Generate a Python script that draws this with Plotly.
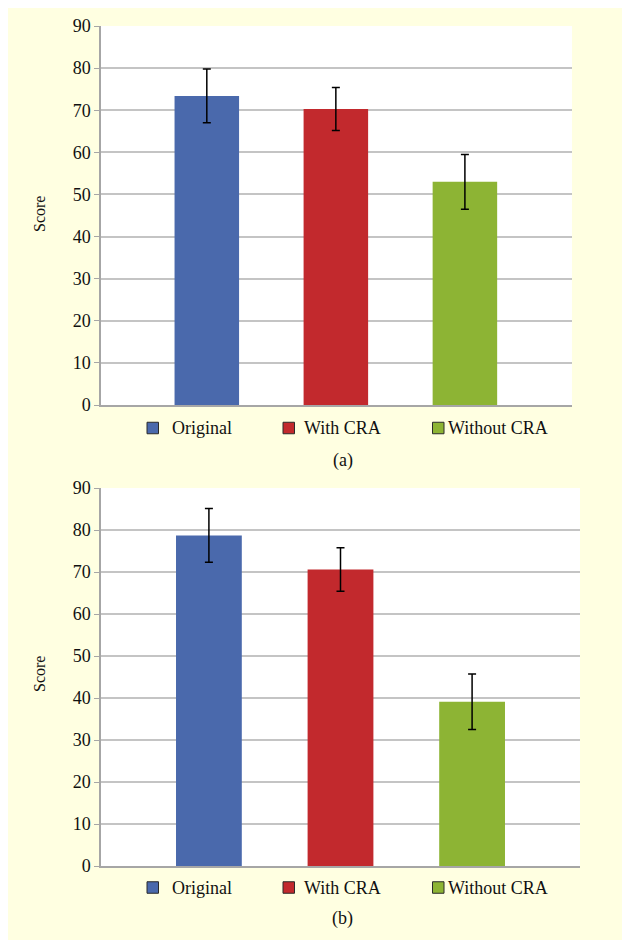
import plotly.graph_objects as go

# ---- data ----
categories = ["Original", "With CRA", "Without CRA"]
scores_a = [73.4, 70.3, 53.0]
errors_a = [6.4, 5.1, 6.5]
scores_b = [78.7, 70.6, 39.1]
errors_b = [6.4, 5.2, 6.6]
panel_labels = ["(a)", "(b)"]
y_ticks = [0, 10, 20, 30, 40, 50, 60, 70, 80, 90]

colors = ["#4A69AC", "#C2292D", "#8DB434"]
OFF = 8  # default page body margin
W, H = 630 - OFF, 940 - OFF
FONT = "Liberation Serif"


def fx(px):
    return (px - OFF) / W


def fy(py):
    return 1 - (py - OFF) / H


fig = go.Figure()

for i, (vals, errs) in enumerate([(scores_a, errors_a), (scores_b, errors_b)]):
    suffix = "" if i == 0 else "2"
    fig.add_trace(go.Bar(
        x=categories, y=vals,
        marker=dict(color=colors, line=dict(width=0)),
        width=0.5,
        error_y=dict(type="data", array=errs, visible=True,
                     color="#000000", thickness=1.5, width=4),
        xaxis="x" + suffix, yaxis="y" + suffix,
        showlegend=False,
    ))

axis_common_y = dict(
    range=[0, 90], tickvals=y_ticks, showgrid=True, gridcolor="#C4C4C4",
    gridwidth=1.5, zeroline=False, showline=True, linecolor="#A6A6A6",
    linewidth=1.5, ticks="outside", ticklen=5, tickcolor="#A6A6A6",
    tickfont=dict(family=FONT, size=18, color="#111111"), automargin=False,
)
axis_common_x = dict(
    type="category", showticklabels=False, showgrid=False, zeroline=False,
    showline=True, linecolor="#A6A6A6", linewidth=1.5, ticks="",
    automargin=False, fixedrange=True,
)

fig.update_layout(
    width=W, height=H,
    margin=dict(l=0, r=0, t=0, b=0),
    paper_bgcolor="#FFFFE1",
    plot_bgcolor="#FFFFFF",
    template="none",
    font=dict(family=FONT, color="#111111"),
    xaxis=dict(domain=[fx(101), fx(572)], range=[-0.82, 2.83], anchor="y", **axis_common_x),
    yaxis=dict(domain=[fy(405), fy(26)], anchor="x", **axis_common_y),
    xaxis2=dict(domain=[fx(101), fx(580)], range=[-0.82, 2.82], anchor="y2", **axis_common_x),
    yaxis2=dict(domain=[fy(866), fy(488)], anchor="x2", **axis_common_y),
)

shapes = []
annotations = []

legend_sq_x = [147, 283, 432.5]
legend_txt_x = [169.5, 301.5, 446]
legend_y = [428, 887.5]
label_y = [460, 918]
ytitle_y = [214, 674]

for p in range(2):
    for k, name in enumerate(categories):
        x0 = legend_sq_x[k]
        yc = legend_y[p]
        shapes.append(dict(type="rect", xref="paper", yref="paper",
                           x0=fx(x0), x1=fx(x0 + 11.5), y0=fy(yc + 5.75), y1=fy(yc - 5.75),
                           fillcolor=colors[k], line=dict(color="#2b2b2b", width=1)))
        annotations.append(dict(text=name, xref="paper", yref="paper",
                                x=fx(legend_txt_x[k]), y=fy(yc), xanchor="left",
                                yanchor="middle", showarrow=False,
                                font=dict(family=FONT, size=18, color="#111111")))
    annotations.append(dict(text=panel_labels[p], xref="paper", yref="paper",
                            x=fx(343), y=fy(label_y[p]), xanchor="center",
                            yanchor="middle", showarrow=False,
                            font=dict(family=FONT, size=18, color="#111111")))
    annotations.append(dict(text="Score", xref="paper", yref="paper",
                            x=fx(39), y=fy(ytitle_y[p]), xanchor="center",
                            yanchor="middle", showarrow=False, textangle=-90,
                            font=dict(family=FONT, size=16, color="#111111")))

fig.update_layout(shapes=shapes, annotations=annotations)
fig.write_html("out.html")
